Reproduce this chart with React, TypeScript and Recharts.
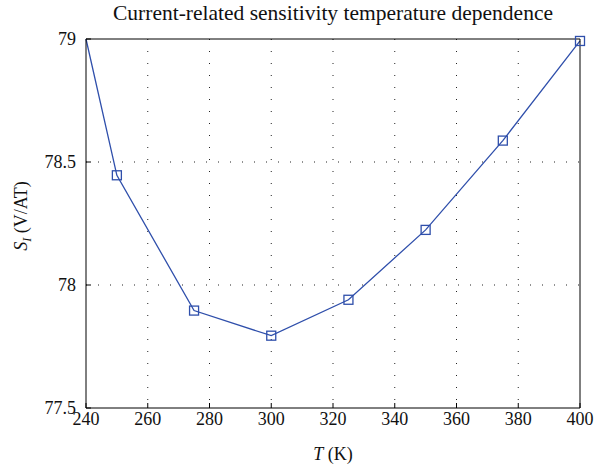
import React from "react";
import { LineChart, Line, XAxis, YAxis, CartesianGrid } from "recharts";

const temps = [240, 250, 275, 300, 325, 350, 375, 400];
const sensitivity = [79.0, 78.446, 77.896, 77.794, 77.94, 78.224, 78.587, 78.992];
const xTicks = [240, 260, 280, 300, 320, 340, 360, 380, 400];
const yTicks = [77.5, 78, 78.5, 79];
const xGrid = [260, 280, 300, 320, 340, 360, 380];
const yGrid = [78, 78.5];

const BLUE = "#2f4fab";
const FONT = "'Liberation Serif', 'Times New Roman', serif";

const data = temps.map((t, i) => ({ t, s: sensitivity[i] }));

// square open markers, none on the clipped start point
const SquareDot = (props: any) => {
  const { cx, cy, index } = props;
  if (index === 0 || cx == null) return <g key={`d-${index}`} />;
  return (
    <rect
      key={`d-${index}`}
      x={cx - 4.5}
      y={cy - 4.5}
      width={9}
      height={9}
      fill="none"
      stroke={BLUE}
      strokeWidth={1.3}
    />
  );
};

export default function App() {
  const tickStyle = { fontFamily: FONT, fontSize: 18, fill: "#111" };
  return (
    <div
      style={{
        position: "absolute",
        left: 0,
        top: 0,
        width: 608,
        height: 470,
        background: "#fff",
        fontFamily: FONT,
      }}
    >
      <div
        style={{
          position: "absolute",
          left: 36,
          width: 594,
          top: 1,
          textAlign: "center",
          fontSize: 21.5,
          color: "#111",
          whiteSpace: "nowrap",
        }}
      >
        Current-related sensitivity temperature dependence
      </div>
      <LineChart
        width={608}
        height={470}
        data={data}
        margin={{ top: 38, right: 27, left: 0, bottom: 32 }}
      >
        <CartesianGrid
          xAxisId="bottom"
          yAxisId="left"
          stroke="#222"
          strokeDasharray="1 11"
          horizontalValues={yGrid}
          verticalValues={xGrid}
        />
        <XAxis
          xAxisId="bottom"
          dataKey="t"
          type="number"
          domain={[240, 400]}
          ticks={xTicks}
          height={30}
          tickSize={-5}
          tickMargin={9}
          stroke="#000"
          tick={tickStyle}
          interval={0}
        />
        <XAxis
          xAxisId="top"
          orientation="top"
          dataKey="t"
          type="number"
          domain={[240, 400]}
          ticks={xTicks}
          height={1}
          tickSize={-5}
          stroke="#000"
          tick={false}
          interval={0}
        />
        <YAxis
          yAxisId="left"
          type="number"
          domain={[77.5, 79]}
          ticks={yTicks}
          width={86}
          tickSize={-5}
          tickMargin={15}
          stroke="#000"
          tick={tickStyle}
          interval={0}
        />
        <YAxis
          yAxisId="right"
          orientation="right"
          type="number"
          domain={[77.5, 79]}
          ticks={yTicks}
          width={1}
          tickSize={-5}
          stroke="#000"
          tick={false}
          interval={0}
        />
        <Line
          xAxisId="bottom"
          yAxisId="left"
          dataKey="s"
          stroke={BLUE}
          strokeWidth={1.3}
          dot={SquareDot}
          activeDot={false}
          isAnimationActive={false}
        />
      </LineChart>
      <div
        style={{
          position: "absolute",
          left: 23,
          top: 216,
          transform: "translate(-50%, -50%) rotate(-90deg)",
          whiteSpace: "nowrap",
          fontSize: 18,
          color: "#111",
        }}
      >
        <i>S</i>
        <sub style={{ fontSize: 12 }}>
          <i>I</i>
        </sub>{" "}
        (V/AT)
      </div>
      <div
        style={{
          position: "absolute",
          left: 86,
          width: 494,
          top: 444,
          textAlign: "center",
          fontSize: 18,
          color: "#111",
        }}
      >
        <i>T</i> (K)
      </div>
    </div>
  );
}
